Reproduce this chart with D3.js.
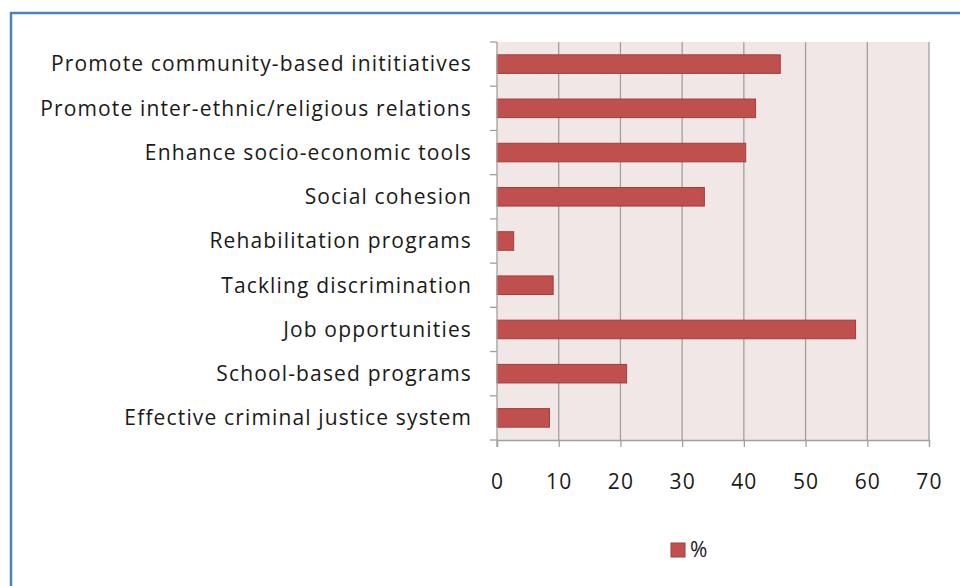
<!DOCTYPE html>
<html><head><meta charset="utf-8">
<script src="https://cdn.jsdelivr.net/npm/d3@7"></script>
<style>
html,body{margin:0;padding:0;background:#fff;}
svg{display:block;}
text{font-family:"Open Sans", sans-serif;fill:#1a1a1a;letter-spacing:1.15px;}
</style></head><body>
<svg id="chart" width="960" height="586"></svg>
<script>
const categories = [
  "Promote community-based inititiatives",
  "Promote inter-ethnic/religious relations",
  "Enhance socio-economic tools",
  "Social cohesion",
  "Rehabilitation programs",
  "Tackling discrimination",
  "Job opportunities",
  "School-based programs",
  "Effective criminal justice system"
];
const values = [45.9, 41.9, 40.3, 33.6, 2.7, 9.1, 58.1, 21.0, 8.5];
const xTicks = [0, 10, 20, 30, 40, 50, 60, 70];
const seriesName = "%";

(function () {
const FONT = 21;
const svg = d3.select("#chart");
svg.append("rect").attr("x", 11).attr("y", 13).attr("width", 960).attr("height", 600)
  .attr("fill", "#fff").attr("stroke", "#4f81bd").attr("stroke-width", 2.5);

const pL = 497, pR = 929, pT = 42, pB = 440;
const x = d3.scaleLinear().domain([0, 70]).range([pL, pR]);
const y = d3.scaleBand().domain(categories).range([pT, pB]).paddingInner(0.58).paddingOuter(0.29);

svg.append("rect").attr("x", pL).attr("y", pT).attr("width", pR - pL).attr("height", pB - pT)
  .attr("fill", "#f2e7e7");

svg.append("g").selectAll("line").data(xTicks.slice(1)).join("line")
  .attr("x1", d => x(d)).attr("x2", d => x(d)).attr("y1", pT).attr("y2", pB)
  .attr("stroke", "#a0a0a0").attr("stroke-width", 1.3);

svg.append("g").selectAll("rect").data(values).join("rect")
  .attr("x", x(0)).attr("y", (d, i) => y(categories[i]))
  .attr("width", d => x(d) - x(0)).attr("height", y.bandwidth())
  .attr("fill", "#c0504d").attr("stroke", "#a23e3b").attr("stroke-width", 1);

const xAxis = d3.axisBottom(x).tickValues(xTicks).tickSize(7).tickPadding(27).tickFormat(d3.format("d"));
const gx = svg.append("g").attr("transform", `translate(0,${pB})`).call(xAxis);
gx.select(".domain").attr("stroke", "#a0a0a0").attr("stroke-width", 1.3);
gx.selectAll(".tick line").attr("stroke", "#a0a0a0").attr("stroke-width", 1.3);
gx.selectAll(".tick text").attr("font-size", FONT).attr("fill", "#1a1a1a")
  .style("font-family", "'Open Sans', sans-serif");

const step = (pB - pT) / categories.length;
const gy = svg.append("g");
gy.append("line").attr("x1", pL).attr("x2", pL).attr("y1", pT).attr("y2", pB + 7)
  .attr("stroke", "#a0a0a0").attr("stroke-width", 1.3);
gy.selectAll("line.t").data(d3.range(categories.length + 1)).join("line").attr("class", "t")
  .attr("x1", pL - 7).attr("x2", pL).attr("y1", i => pT + i * step).attr("y2", i => pT + i * step)
  .attr("stroke", "#a0a0a0").attr("stroke-width", 1.3);
gy.selectAll("text").data(categories).join("text")
  .attr("x", 472).attr("y", d => y(d) + y.bandwidth() / 2).attr("dy", "0.35em")
  .attr("text-anchor", "end").attr("font-size", FONT).text(d => d);

const lg = svg.append("g").attr("transform", "translate(671,543)");
lg.append("rect").attr("width", 14).attr("height", 14).attr("fill", "#c0504d").attr("stroke", "#a23e3b");
lg.append("text").attr("x", 19).attr("y", 7).attr("dy", "0.35em").attr("font-size", FONT).text(seriesName);
})();
</script>
</body></html>
